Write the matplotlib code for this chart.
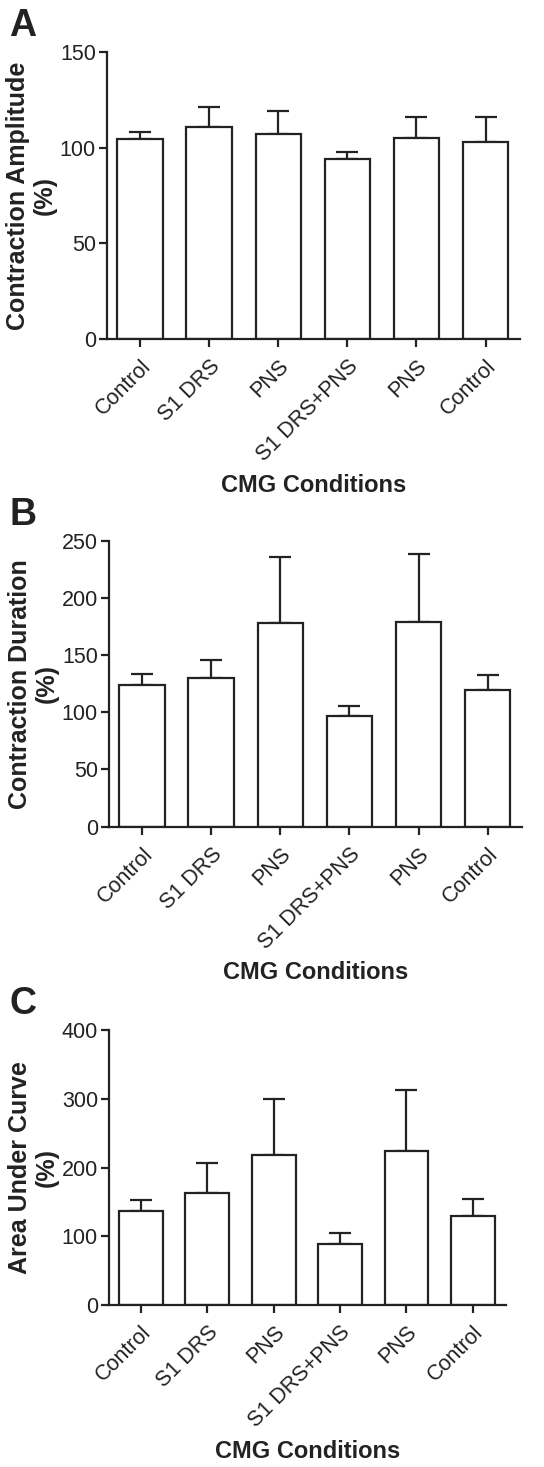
import matplotlib
matplotlib.use('Agg')
import matplotlib.pyplot as plt
import numpy as np

plt.rcParams['font.family'] = ['Liberation Sans', 'DejaVu Sans']

# Condições do eixo x (iguais nos três painéis)
conditions = ['Control', 'S1 DRS', 'PNS', 'S1 DRS+PNS', 'PNS', 'Control']

# Painel A - amplitude da contração (média e topo do erro)
amp_mean = [104.7, 110.8, 107.0, 94.2, 105.0, 103.1]
amp_err = [3.3, 10.2, 12.3, 3.5, 10.9, 12.8]

# Painel B - duração da contração
dur_mean = [123.9, 130.3, 178.3, 96.5, 179.2, 119.8]
dur_err = [9.6, 15.1, 57.2, 9.3, 58.9, 12.5]

# Painel C - área sob a curva
auc_mean = [136.7, 163.4, 217.7, 88.7, 224.0, 130.0]
auc_err = [16.0, 43.1, 81.5, 15.5, 88.7, 24.2]

ink = '#222222'

fig = plt.figure(figsize=(5.44, 14.67), dpi=100)

panels = [
    ('A', [0.1967, 0.7689, 0.7593, 0.1957], amp_mean, amp_err, 'Contraction Amplitude\n(%)', 150, 50),
    ('B', [0.2004, 0.4365, 0.7596, 0.1949], dur_mean, dur_err, 'Contraction Duration\n(%)', 250, 50),
    ('C', [0.2004, 0.1104, 0.7298, 0.1875], auc_mean, auc_err, 'Area Under Curve\n(%)', 400, 100),
]

for letter, rect, mean, err, ylabel, ymax, step in panels:
    ax = fig.add_axes(rect)
    x = np.arange(len(conditions))
    ax.bar(x, mean, width=0.66, color='white', edgecolor=ink, linewidth=1.6, zorder=2)
    ax.errorbar(x, mean, yerr=[np.zeros(len(err)), err], fmt='none', ecolor=ink,
                elinewidth=1.6, capsize=8, capthick=1.6, zorder=1)
    ax.set_xlim(-0.48, 5.5)
    ax.set_ylim(0, ymax)
    ax.set_yticks(np.arange(0, ymax + 1, step))
    ax.set_xticks(x)
    ax.set_xticklabels(conditions, rotation=45, ha='right', va='top',
                       rotation_mode='anchor', fontsize=15.5, color=ink)
    ax.tick_params(axis='y', labelsize=15.5, labelcolor=ink, length=6, width=1.6,
                   color=ink, pad=2)
    ax.tick_params(axis='x', length=6, width=1.6, color=ink, pad=6)
    for side in ['top', 'right']:
        ax.spines[side].set_visible(False)
    for side in ['left', 'bottom']:
        ax.spines[side].set_linewidth(1.6)
        ax.spines[side].set_color(ink)
    ax.set_ylabel(ylabel, fontsize=18, fontweight='bold', color=ink, labelpad=2,
                  linespacing=1.15)
    ax.set_xlabel('CMG Conditions', fontsize=17, fontweight='bold', color=ink, labelpad=6)
    top = rect[1] + rect[3]
    fig.text(0.017, top + 0.011, letter, fontsize=27, fontweight='bold', color=ink,
             va='baseline')

plt.savefig('out.png', dpi=100)
